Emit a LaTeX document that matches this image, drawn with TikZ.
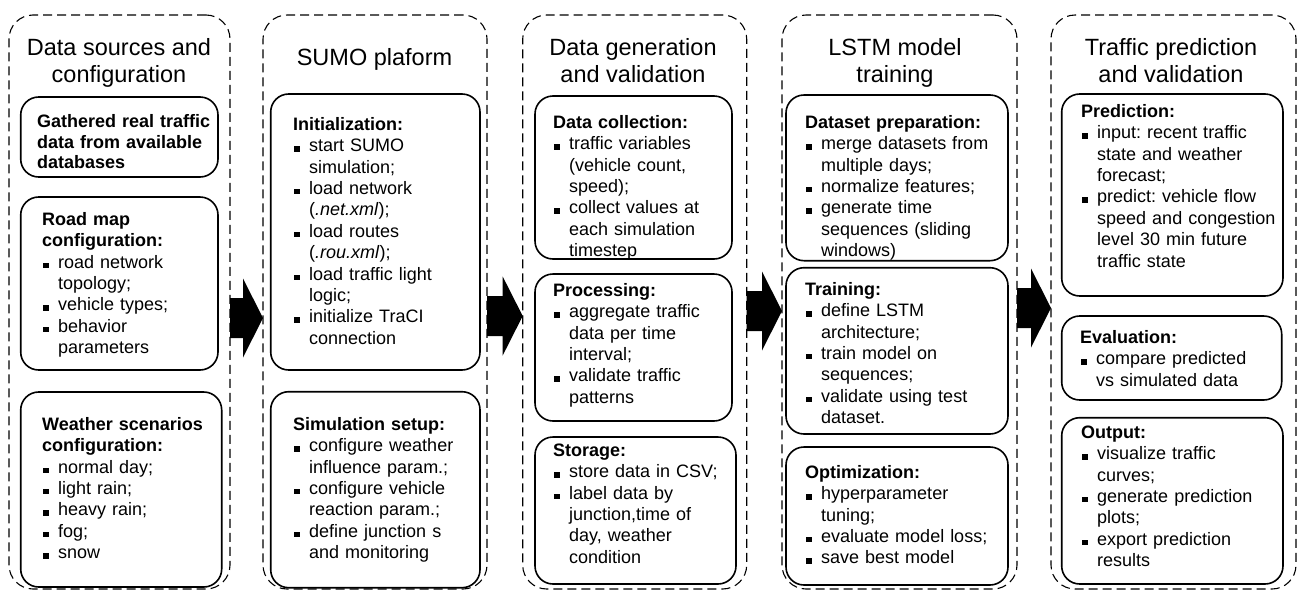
\documentclass[tikz,border=0pt]{standalone}
\usepackage{fontspec}
\setmainfont{Liberation Sans}
\usetikzlibrary{calc,fit}
\setlength\parindent{0pt}
\frenchspacing
\newcommand\itm[1]{\par\hangindent=16pt\hangafter=1\noindent\makebox[16pt][l]{\hspace*{1pt}\rule{5.5pt}{5.5pt}}#1\par}
\newcommand\nl{\newline}
\newcommand\hd[1]{\rule{0pt}{14pt}\textbf{#1}}
\newcommand\blockarrow[3]{%
  \fill[black] ($(#1.east |- 0,#3)+(0,-20)$) -- ($(#2.west |- 0,#3)+(-20,-20)$) -- ++(0,-19.5)
    -- (#2.west |- 0,#3) -- ++(-20,39.5) -- ++(0,-19.5) -- ($(#1.east |- 0,#3)+(0,20)$) -- cycle;}
\begin{document}
\begin{tikzpicture}[x=1pt,y=-1pt,
  outer/.style={draw, dash pattern=on 9pt off 5pt, line width=1.1pt, rounded corners=24pt, inner sep=0pt, outer sep=0pt},
  ibox/.style={draw, line width=1.6pt, rounded corners=18pt, inner sep=0pt},
  txt/.style={font=\fontsize{18}{21.4}\selectfont, text width=230pt, align=left, inner sep=0pt, anchor=north west},
  ttl/.style={font=\fontsize{23.5}{27}\selectfont, align=center, inner sep=0pt, anchor=north}]
\useasboundingbox (0,0) rectangle (1299,592);
% columns
\node[outer, fit={(9,15) (230,589)}] (c1) {};
\node[outer, fit={(263,15) (487,589)}] (c2) {};
\node[outer, fit={(522.7,15) (746.7,589)}] (c3) {};
\node[outer, fit={(782,15) (1017,589)}] (c4) {};
\node[outer, fit={(1051,15) (1296,589)}] (c5) {};
% titles
\node[ttl] (h1) at (119,37) {\rule{0pt}{18pt}Data sources and\\configuration};
\node[ttl] (h2) at (374.5,47) {\rule{0pt}{18pt}SUMO plaform};
\node[ttl] (h3) at (633,37) {\rule{0pt}{18pt}Data generation\\and validation};
\node[ttl] (h4) at (895,37) {\rule{0pt}{18pt}LSTM model\\training};
\node[ttl] (h5) at (1171,37) {\rule{0pt}{18pt}Traffic prediction\\and validation};
% inner boxes
\node[ibox, fit={(20.7,97) (218,177)}] (a1) {};
\node[ibox, fit={(20.7,197) (218,370)}] (a2) {};
\node[ibox, fit={(20.7,392) (221.7,587)}] (a3) {};
\node[ibox, fit={(270.7,94) (480,370)}] (b1) {};
\node[ibox, fit={(270.7,391.7) (480,587.7)}] (b2) {};
\node[ibox, fit={(535,96) (732,259)}] (d1) {};
\node[ibox, fit={(535,274) (732,421)}] (d2) {};
\node[ibox, fit={(535,437) (736,584)}] (d3) {};
\node[ibox, fit={(786,95) (1008,260.7)}] (e1) {};
\node[ibox, fit={(786,267.7) (1008,434)}] (e2) {};
\node[ibox, fit={(786,447) (1008,585)}] (e3) {};
\node[ibox, fit={(1061.7,94) (1283,296)}] (f1) {};
\node[ibox, fit={(1061.7,316) (1281.7,400)}] (f2) {};
\node[ibox, fit={(1061.7,417.7) (1283,584)}] (f3) {};
% texts
\node[txt, font=\fontsize{18}{20.5}\selectfont] (ta1) at (37,113.7) {\hd{Gathered real traffic\nl data from available\nl databases}};
\node[txt] (ta2) at (42,211) {\hd{Road map\nl configuration:}\itm{road network\nl topology;}\itm{vehicle types;}\itm{behavior\nl parameters}};
\node[txt] (ta3) at (42,416) {\hd{Weather scenarios\nl configuration:}\itm{normal day;}\itm{light rain;}\itm{heavy rain;}\itm{fog;}\itm{snow}};
\node[txt] (tb1) at (293,116) {\hd{Initialization:}\itm{start SUMO\nl simulation;}\itm{load network\nl (\textit{.net.xml});}\itm{load routes\nl (\textit{.rou.xml});}\itm{load traffic light\nl logic;}\itm{initialize TraCI\nl connection}};
\node[txt] (tb2) at (293,416) {\hd{Simulation setup:}\itm{configure weather\nl influence param.;}\itm{configure vehicle\nl reaction param.;}\itm{define junction s\nl and monitoring}};
\node[txt] (tc1) at (553,114) {\hd{Data collection:}\itm{traffic variables\nl (vehicle count,\nl speed);}\itm{collect values at\nl each simulation\nl timestep}};
\node[txt] (tc2) at (553,282) {\hd{Processing:}\itm{aggregate traffic\nl data per time\nl interval;}\itm{validate traffic\nl patterns}};
\node[txt] (tc3) at (553,442) {\hd{Storage:}\itm{store data in CSV;}\itm{label data by\nl junction,time of\nl day, weather\nl condition}};
\node[txt] (td1) at (805,114) {\hd{Dataset preparation:}\itm{merge datasets from\nl multiple days;}\itm{normalize features;}\itm{generate time\nl sequences (sliding\nl windows)}};
\node[txt] (td2) at (805,281) {\hd{Training:}\itm{define LSTM\nl architecture;}\itm{train model on\nl sequences;}\itm{validate using test\nl dataset.}};
\node[txt] (td3) at (805,464) {\hd{Optimization:}\itm{hyperparameter\nl tuning;}\itm{evaluate model loss;}\itm{save best model}};
\node[txt] (te1) at (1081,103) {\hd{Prediction:}\itm{input: recent traffic\nl state and weather\nl forecast;}\itm{predict: vehicle flow\nl speed and congestion\nl level 30 min future\nl traffic state}};
\node[txt] (te2) at (1080,329) {\hd{Evaluation:}\itm{compare predicted\nl vs simulated data}};
\node[txt] (te3) at (1081,424) {\hd{Output:}\itm{visualize traffic\nl curves;}\itm{generate prediction\nl plots;}\itm{export prediction\nl results}};
% arrows
\blockarrow{c1}{c2}{318}
\blockarrow{c2}{c3}{316}
\blockarrow{c3}{c4}{311}
\blockarrow{c4}{c5}{308}
\end{tikzpicture}
\end{document}
